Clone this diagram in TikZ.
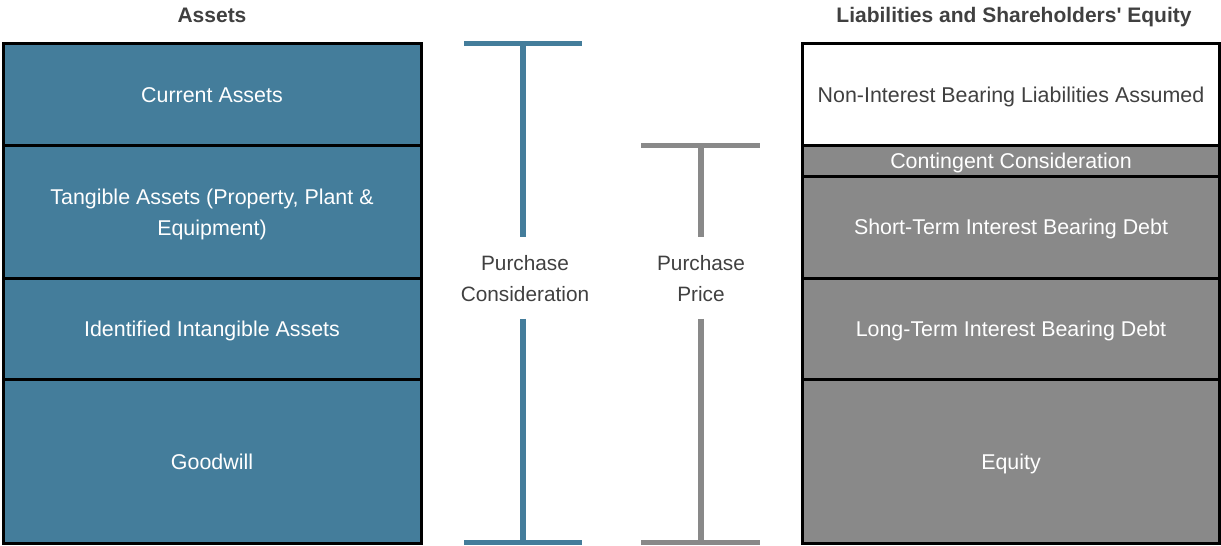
\documentclass[tikz,border=0pt]{standalone}
\usepackage{fontspec}
\setmainfont{Liberation Sans}[Ligatures=TeXOff]
\definecolor{asblue}{HTML}{447D9B}
\definecolor{ligray}{HTML}{898989}
\definecolor{txgray}{HTML}{404040}
\begin{document}
\begin{tikzpicture}[x=0.5pt,y=0.5pt,
		every node/.style={font=\fontsize{10.7}{15.5}\selectfont,align=center,inner sep=0pt,text height=7.6pt,text depth=0pt},
		twoline/.style={text height={},text depth={}},
		abox/.style={draw=black,line width=1.5pt,fill=asblue,text=white,minimum width=209pt},
		lbox/.style={draw=black,line width=1.5pt,fill=ligray,text=white,minimum width=208.5pt},
		head/.style={text=txgray,font=\fontsize{10.5}{15.5}\selectfont\bfseries,anchor=base},
		lbl/.style={text=txgray,twoline,font=\fontsize{10.4}{15.5}\selectfont},
		pcbar/.style={draw=asblue,line width=2.5pt},
		pcline/.style={draw=asblue,line width=3pt},
		ppbar/.style={draw=ligray,line width=2.5pt},
		ppline/.style={draw=ligray,line width=3pt}]
		\useasboundingbox (0,0) rectangle (1221,546);
		% headers
		\node[head] (ha) at (212,523) {Assets};
		\node[head] (hl) at (1014,523) {Liabilities and Shareholders' Equity};
		% assets
		\node[abox,minimum height=51pt] (cur) at (212,451.5) {Current Assets};
		\node[abox,minimum height=66.4pt] (tanbox) at (212,334.1) {};
		\node[twoline,text=white] (tan) at (212,331.6) {Tangible Assets (Property, Plant \&\\Equipment)};
		\node[abox,minimum height=50.85pt] (int) at (212,216.85) {Identified Intangible Assets};
		\node[abox,minimum height=81.75pt] (gw) at (212,84.25) {Goodwill};
		% liabilities and equity
		\node[lbox,fill=white,text=txgray,minimum height=51pt] (nib) at (1011,451.5) {Non-Interest Bearing Liabilities Assumed};
		\node[lbox,minimum height=15.4pt] (cc) at (1011,385.1) {Contingent Consideration};
		\node[lbox,minimum height=51pt] (std) at (1011,318.7) {Short-Term Interest Bearing Debt};
		\node[lbox,minimum height=50.85pt] (ltd) at (1011,216.85) {Long-Term Interest Bearing Debt};
		\node[lbox,minimum height=81.75pt] (eq) at (1011,84.25) {Equity};
		% purchase consideration
		\node[lbl] (pc) at (525,267.5) {Purchase\\Consideration};
		\draw[pcbar] (464,502.5)--(582,502.5);
		\draw[pcline] (523,502.5)--(523,309);
		\draw[pcline] (523,227)--(523,3);
		\draw[pcbar] (464,3)--(582,3);
		% purchase price
		\node[lbl] (pp) at (701,267.5) {Purchase\\Price};
		\draw[ppbar] (641,400.5)--(760,400.5);
		\draw[ppline] (701,400.5)--(701,309);
		\draw[ppline] (701,227)--(701,3);
		\draw[ppbar] (641,3)--(760,3);
	\end{tikzpicture}
\end{document}
